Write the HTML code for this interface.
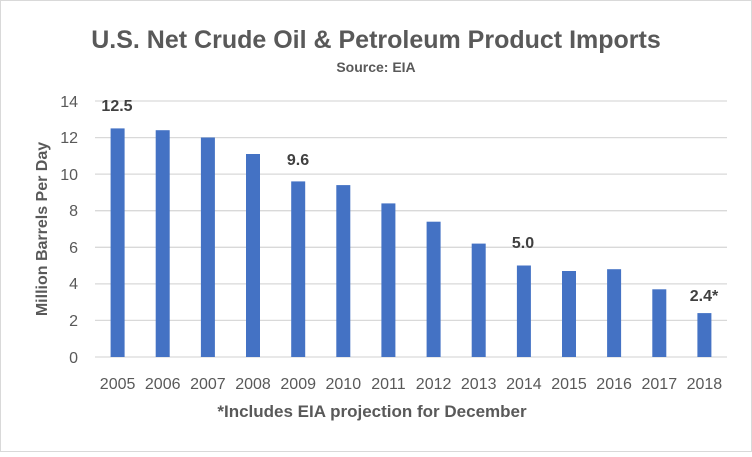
<!DOCTYPE html>
<html><head><style>body{margin:0;background:#fff}</style></head><body>
<svg width="752" height="452" xmlns="http://www.w3.org/2000/svg" font-family="Liberation Sans, sans-serif">
<rect x="0.5" y="0.5" width="751" height="451" fill="#fff" stroke="#d9d9d9"/>
<text x="376" y="48" text-anchor="middle" font-size="25" font-weight="bold" fill="#595959">U.S. Net Crude Oil &amp; Petroleum Product Imports</text>
<text x="376" y="72" text-anchor="middle" font-size="14" font-weight="bold" fill="#595959">Source: EIA</text>
<g stroke="#d9d9d9" stroke-width="1.3">
<line x1="95" x2="727" y1="101" y2="101"/><line x1="95" x2="727" y1="137.6" y2="137.6"/>
<line x1="95" x2="727" y1="174.1" y2="174.1"/><line x1="95" x2="727" y1="210.7" y2="210.7"/>
<line x1="95" x2="727" y1="247.3" y2="247.3"/><line x1="95" x2="727" y1="283.9" y2="283.9"/>
<line x1="95" x2="727" y1="320.4" y2="320.4"/><line x1="95" x2="727" y1="357" y2="357"/>
</g>
<g font-size="16" fill="#595959" text-anchor="end">
<text x="78" y="107">14</text><text x="78" y="143">12</text><text x="78" y="180">10</text>
<text x="78" y="216">8</text><text x="78" y="253">6</text><text x="78" y="289">4</text>
<text x="78" y="326">2</text><text x="78" y="363">0</text>
</g>
<text transform="translate(47,229) rotate(-90)" text-anchor="middle" font-size="16" font-weight="bold" fill="#595959">Million Barrels Per Day</text>
<g fill="#4472c4">
<rect x="110.6" y="128.4" width="14" height="228.6"/>
<rect x="155.7" y="130.2" width="14" height="226.8"/>
<rect x="200.9" y="137.5" width="14" height="219.5"/>
<rect x="246.0" y="154.0" width="14" height="203.0"/>
<rect x="291.2" y="181.4" width="14" height="175.6"/>
<rect x="336.3" y="185.1" width="14" height="171.9"/>
<rect x="381.4" y="203.4" width="14" height="153.6"/>
<rect x="426.6" y="221.7" width="14" height="135.3"/>
<rect x="471.7" y="243.6" width="14" height="113.4"/>
<rect x="516.9" y="265.5" width="14" height="91.5"/>
<rect x="562.0" y="271.0" width="14" height="86.0"/>
<rect x="607.1" y="269.2" width="14" height="87.8"/>
<rect x="652.3" y="289.3" width="14" height="67.7"/>
<rect x="697.4" y="313.1" width="14" height="43.9"/>
</g>
<g font-size="16" fill="#595959" text-anchor="middle">
<text x="117.6" y="389">2005</text><text x="162.7" y="389">2006</text><text x="207.9" y="389">2007</text>
<text x="253.0" y="389">2008</text><text x="298.2" y="389">2009</text><text x="343.3" y="389">2010</text>
<text x="388.4" y="389">2011</text><text x="433.6" y="389">2012</text><text x="478.7" y="389">2013</text>
<text x="523.9" y="389">2014</text><text x="569.0" y="389">2015</text><text x="614.1" y="389">2016</text>
<text x="659.3" y="389">2017</text><text x="704.4" y="389">2018</text>
</g>
<g font-size="16" font-weight="bold" fill="#404040" text-anchor="middle">
<text x="117" y="111">12.5</text><text x="298" y="165">9.6</text>
<text x="523" y="248">5.0</text><text x="704" y="301">2.4*</text>
</g>
<text x="372" y="417" text-anchor="middle" font-size="17" font-weight="bold" fill="#595959">*Includes EIA projection for December</text>
</svg>
</body></html>
